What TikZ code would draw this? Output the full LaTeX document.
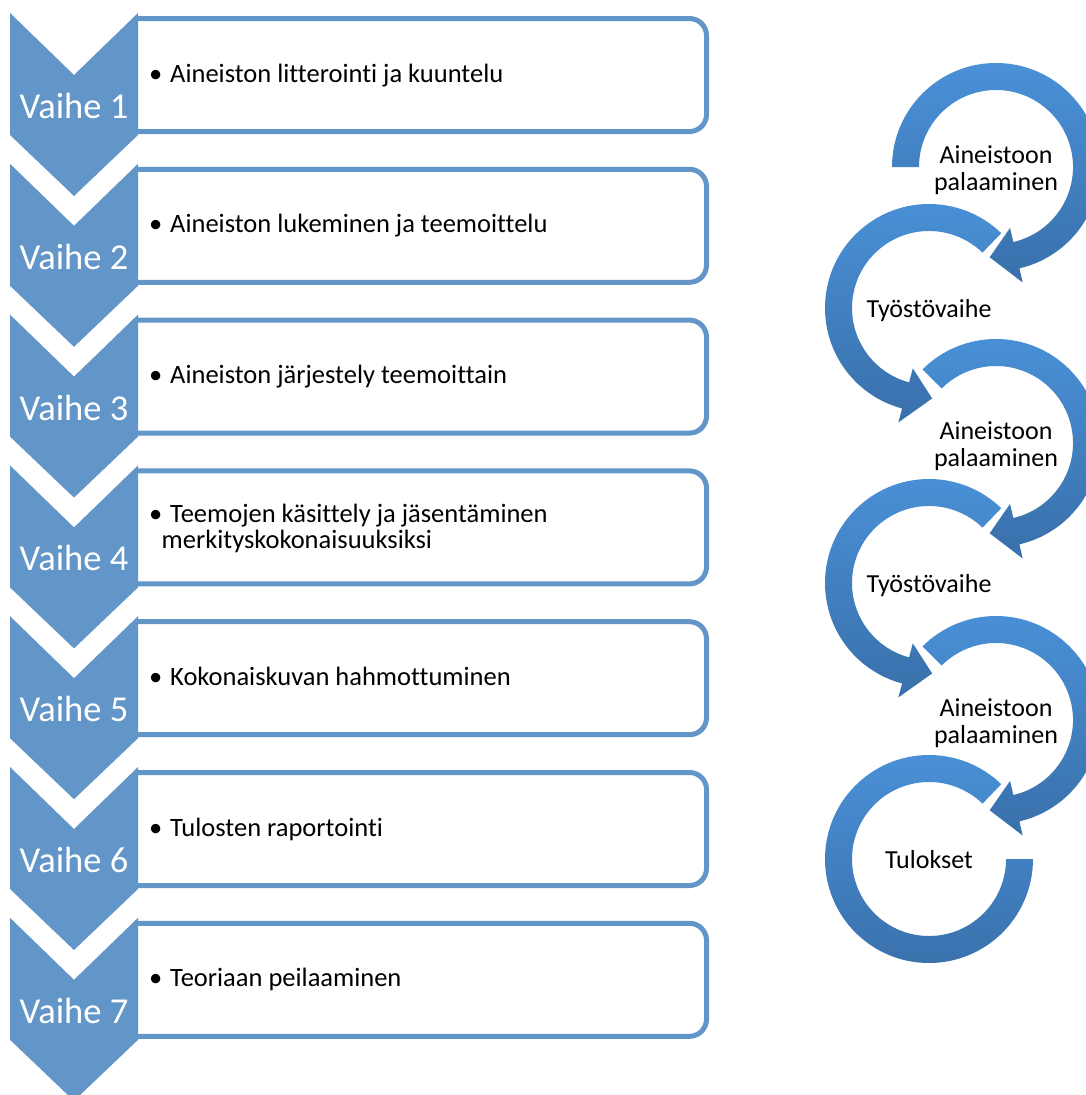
\documentclass[tikz,border=0pt]{standalone}
\usepackage{fontspec}
\setmainfont{Carlito}[Ligatures={NoCommon,NoContextual}]
\definecolor{chev}{RGB}{98,149,200}
\definecolor{ringtop}{RGB}{74,145,216}
\definecolor{ringbot}{RGB}{57,112,170}
\tikzset{
  chevron/.style={fill=chev},
  stepbox/.style={draw=chev, line width=5pt, rounded corners=17pt},
  vlabel/.style={text=white, font=\fontsize{36.5}{36.5}\selectfont, anchor=base, inner sep=0pt},
  btext/.style={font=\fontsize{26.5}{26.5}\selectfont, anchor=base west, inner sep=0pt},
  ctext/.style={font=\fontsize{26}{26.5}\selectfont, align=center, inner sep=0pt},
  ring/.style={top color=ringtop, bottom color=ringbot, draw=none},
}
\begin{document}
\begin{tikzpicture}[x=1pt,y=1pt]
\useasboundingbox (0,0) rectangle (1085,-1095);
\fill[white] (0,0) rectangle (1085,-1095);

% boxes
\foreach \i in {0,...,6}{
  \pgfmathsetmacro\bt{-18.5-150.8*\i}
  \pgfmathsetmacro\bb{-131.5-150.8*\i}
  \draw[stepbox] (138,\bt) -- (706.5,\bt) -- (706.5,\bb) -- (138,\bb);
}
% chevrons
\foreach \i in {1,...,7}{
  \pgfmathsetmacro\ct{-13-150.8*(\i-1)}
  \fill[chevron] (10,\ct) -- (74,\ct-62) -- (138,\ct) -- (138,\ct-122) -- (74,\ct-183) -- (10,\ct-122) -- cycle;
  \node[vlabel] (v\i) at (74,\ct-105.5) {Vaihe \i};
}
% box texts
\node[btext] (t1) at (149,-82) {\makebox[21pt][l]{•}Aineiston litterointi ja kuuntelu};
\node[btext] (t2) at (149,-232.8) {\makebox[21pt][l]{•}Aineiston lukeminen ja teemoittelu};
\node[btext] (t3) at (149,-383.6) {\makebox[21pt][l]{•}Aineiston järjestely teemoittain};
\node[btext] (t4) at (149,-522) {\makebox[21pt][l]{•}Teemojen käsittely ja jäsentäminen};
\node[btext] (t4b) at (161.5,-548) {merkityskokonaisuuksiksi};
\node[btext] (t5) at (149,-685.2) {\makebox[21pt][l]{•}Kokonaiskuvan hahmottuminen};
\node[btext] (t6) at (149,-836) {\makebox[21pt][l]{•}Tulosten raportointi};
\node[btext] (t7) at (149,-986.8) {\makebox[21pt][l]{•}Teoriaan peilaaminen};

% rings (drawn bottom-up so arrowheads lie on top)
\begin{scope}[shift={(929,-859)}]
  \shade[ring] (46:104) arc[start angle=46, end angle=360, radius=104] -- (0:77) arc[start angle=360, end angle=46, radius=77] -- cycle;
\end{scope}
\begin{scope}[shift={(996,-720)}]
  \shade[ring] (135:104) arc[start angle=135, end angle=-77, radius=104] -- (-77:118.5) -- (-94:90.5) -- (-77:62.5) -- (-77:77) arc[start angle=-77, end angle=135, radius=77] -- cycle;
\end{scope}
\begin{scope}[shift={(929,-583)}]
  \shade[ring] (46:104) arc[start angle=46, end angle=255, radius=104] -- (255:118.5) -- (272:90.5) -- (255:62.5) -- (255:77) arc[start angle=255, end angle=46, radius=77] -- cycle;
\end{scope}
\begin{scope}[shift={(996,-443)}]
  \shade[ring] (135:104) arc[start angle=135, end angle=-77, radius=104] -- (-77:118.5) -- (-94:90.5) -- (-77:62.5) -- (-77:77) arc[start angle=-77, end angle=135, radius=77] -- cycle;
\end{scope}
\begin{scope}[shift={(929,-308)}]
  \shade[ring] (46:104) arc[start angle=46, end angle=255, radius=104] -- (255:118.5) -- (272:90.5) -- (255:62.5) -- (255:77) arc[start angle=255, end angle=46, radius=77] -- cycle;
\end{scope}
\begin{scope}[shift={(996,-167)}]
  \shade[ring] (180:104) arc[start angle=180, end angle=-77, radius=104] -- (-77:118.5) -- (-94:90.5) -- (-77:62.5) -- (-77:77) arc[start angle=-77, end angle=180, radius=77] -- cycle;
\end{scope}

% ring texts
\node[ctext] (c1) at (996,-170) {Aineistoon\\palaaminen};
\node[ctext, anchor=base] (c2) at (929,-317) {Työstövaihe};
\node[ctext] (c3) at (996,-446) {Aineistoon\\palaaminen};
\node[ctext, anchor=base] (c4) at (929,-592) {Työstövaihe};
\node[ctext] (c5) at (996,-723) {Aineistoon\\palaaminen};
\node[ctext, anchor=base] (c6) at (929,-868) {Tulokset};
\end{tikzpicture}
\end{document}
